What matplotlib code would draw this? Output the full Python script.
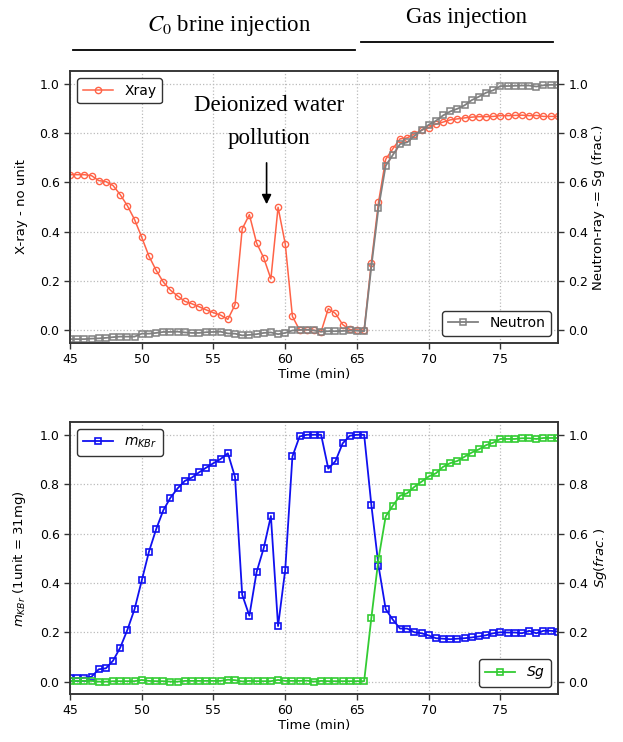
import numpy as np
import matplotlib
matplotlib.use("Agg")
import matplotlib.pyplot as plt

# ---- data -----------------------------------------------------------
time_min = [45.0 + 0.5 * i for i in range(69)]  # 45.0 ... 79.0

xray = [0.631, 0.631, 0.631, 0.627, 0.607, 0.603, 0.587, 0.550, 0.505, 0.449,
        0.377, 0.301, 0.244, 0.196, 0.163, 0.140, 0.118, 0.108, 0.096, 0.083,
        0.072, 0.062, 0.045, 0.104, 0.411, 0.469, 0.355, 0.294, 0.209, 0.499,
        0.351, 0.057, 0.002, 0.003, 0.001, -0.005, 0.088, 0.069, 0.024, 0.004,
        0.002, 0.001, 0.274, 0.519, 0.693, 0.736, 0.776, 0.780, 0.796, 0.811,
        0.822, 0.836, 0.844, 0.853, 0.857, 0.861, 0.864, 0.866, 0.866, 0.867,
        0.870, 0.870, 0.871, 0.872, 0.870, 0.871, 0.867, 0.867, 0.867]

neutron = [-0.035, -0.035, -0.035, -0.033, -0.032, -0.030, -0.027, -0.025, -0.025, -0.025,
           -0.013, -0.013, -0.010, -0.006, -0.006, -0.005, -0.008, -0.010, -0.010, -0.007,
           -0.006, -0.005, -0.012, -0.013, -0.020, -0.018, -0.015, -0.010, -0.008, -0.015,
           -0.010, 0.000, 0.002, 0.003, 0.000, -0.005, -0.003, -0.003, -0.002, 0.000,
           -0.001, -0.003, 0.258, 0.497, 0.667, 0.711, 0.755, 0.762, 0.788, 0.811,
           0.833, 0.849, 0.871, 0.887, 0.898, 0.912, 0.933, 0.947, 0.963, 0.973,
           0.990, 0.990, 0.991, 0.992, 0.992, 0.988, 0.993, 0.995, 0.995]

m_kbr = [0.014, 0.014, 0.016, 0.020, 0.050, 0.054, 0.085, 0.138, 0.210, 0.294,
         0.410, 0.526, 0.617, 0.694, 0.745, 0.783, 0.813, 0.827, 0.848, 0.867,
         0.885, 0.902, 0.925, 0.829, 0.352, 0.267, 0.443, 0.541, 0.671, 0.225,
         0.453, 0.912, 0.993, 1.000, 1.000, 1.000, 0.863, 0.893, 0.965, 0.996,
         1.000, 1.000, 0.717, 0.470, 0.294, 0.251, 0.215, 0.215, 0.200, 0.196,
         0.187, 0.176, 0.174, 0.172, 0.174, 0.176, 0.179, 0.183, 0.188, 0.196,
         0.200, 0.199, 0.199, 0.196, 0.206, 0.196, 0.206, 0.206, 0.203]

sg = [0.003, 0.003, 0.003, 0.003, 0.000, 0.000, 0.002, 0.002, 0.002, 0.002,
      0.007, 0.003, 0.002, 0.002, 0.000, 0.000, 0.003, 0.003, 0.003, 0.003,
      0.003, 0.003, 0.008, 0.006, 0.001, 0.003, 0.002, 0.002, 0.002, 0.007,
      0.003, 0.003, 0.003, 0.004, 0.000, 0.003, 0.002, 0.002, 0.002, 0.002,
      0.002, 0.002, 0.257, 0.497, 0.669, 0.713, 0.753, 0.763, 0.789, 0.810,
      0.831, 0.844, 0.870, 0.885, 0.894, 0.911, 0.928, 0.941, 0.958, 0.968,
      0.983, 0.983, 0.983, 0.986, 0.986, 0.983, 0.987, 0.987, 0.987]

y_ticks = [0.0, 0.2, 0.4, 0.6, 0.8, 1.0]
x_ticks = [45, 50, 55, 60, 65, 70, 75]

# ---- style ----------------------------------------------------------
plt.rcParams.update({
    "font.family": ["DejaVu Sans"],
    "mathtext.fontset": "dejavusans",
    "axes.edgecolor": "#333333",
    "axes.linewidth": 1.1,
    "xtick.color": "#333333",
    "ytick.color": "#333333",
    "xtick.labelcolor": "black",
    "ytick.labelcolor": "black",
    "xtick.labelsize": 9,
    "ytick.labelsize": 9,
    "axes.labelsize": 9.5,
    "legend.fontsize": 10,
})

fig = plt.figure(figsize=(6.23, 7.42), dpi=100)
ax1 = fig.add_axes([0.1124, 0.538, 0.783, 0.366])
ax3 = fig.add_axes([0.1124, 0.0647, 0.783, 0.366])

XRAY_C = "#ff6347"
NEUT_C = "#808080"
KBR_C = "#1010f0"
SG_C = "#33cc33"


def style(ax, twin):
    ax.set_xlim(45, 79)
    ax.set_ylim(-0.05, 1.05)
    ax.set_xticks(x_ticks)
    ax.set_yticks(y_ticks)
    twin.set_ylim(-0.05, 1.05)
    twin.set_yticks(y_ticks)
    ax.grid(True, linestyle=":", color="#bbbbbb", linewidth=0.9)
    for a in (ax, twin):
        a.tick_params(direction="out", length=4, width=1)


# top panel
ax2 = ax1.twinx()
ax1.plot(time_min, xray, "-o", color=XRAY_C, mfc="none", mec=XRAY_C,
         ms=4.5, lw=1.1, mew=1.0, label="Xray")
ax2.plot(time_min, neutron, "-s", color=NEUT_C, mfc="none", mec=NEUT_C,
         ms=5, lw=1.3, mew=1.1, label="Neutron")
style(ax1, ax2)
ax1.set_xlabel("Time (min)", labelpad=1)
ax1.set_ylabel("X-ray - no unit", labelpad=8)
ax2.set_ylabel("Neutron-ray -= Sg (frac.)", labelpad=3)
leg = ax1.legend(loc="upper left", fancybox=True, framealpha=1,
                 edgecolor="#333333", handlelength=2.2)
leg.get_frame().set_linewidth(1.0)
leg = ax2.legend(loc="lower right", fancybox=True, framealpha=1,
                 edgecolor="#333333", handlelength=2.2)
leg.get_frame().set_linewidth(1.0)

ax1.text(58.85, 0.845, "Deionized water\npollution", ha="center", va="center",
         fontsize=16.5, family="Liberation Serif", linespacing=1.75)
ax1.annotate("", xy=(58.7, 0.5), xytext=(58.7, 0.69),
             arrowprops=dict(arrowstyle="-|>", color="black", lw=1.2,
                             mutation_scale=14))

# bottom panel
ax4 = ax3.twinx()
ax3.plot(time_min, m_kbr, "-s", color=KBR_C, mfc="none", mec=KBR_C,
         ms=5, lw=1.3, mew=1.2, label=r"$m_{KBr}$")
ax4.plot(time_min, sg, "-s", color=SG_C, mfc="none", mec=SG_C,
         ms=5, lw=1.3, mew=1.2, label=r"$Sg$")
style(ax3, ax4)
ax3.set_xlabel("Time (min)", labelpad=1)
ax3.set_ylabel(r"$m_{KBr}$ (1unit = 31mg)", labelpad=8)
ax4.set_ylabel(r"$Sg(frac.)$", labelpad=3)
leg = ax3.legend(loc="upper left", fancybox=True, framealpha=1,
                 edgecolor="#333333", handlelength=2.2)
leg.get_frame().set_linewidth(1.0)
leg = ax4.legend(loc="lower right", fancybox=True, framealpha=1,
                 edgecolor="#333333", handlelength=2.2)
leg.get_frame().set_linewidth(1.0)

# header annotations
fig.text(229 / 623, 1 - 26 / 742, r"$C_{\mathit{0}}$ brine injection", ha="center", va="center",
         fontsize=16.5, family="Liberation Serif", math_fontfamily="stix")
fig.text(466 / 623, 1 - 18 / 742, "Gas injection", ha="center", va="center",
         fontsize=16.5, family="Liberation Serif")
fig.add_artist(plt.Line2D([73 / 623, 355 / 623], [1 - 50 / 742, 1 - 50 / 742],
                          color="black", lw=1.3, transform=fig.transFigure))
fig.add_artist(plt.Line2D([361 / 623, 553 / 623], [1 - 42 / 742, 1 - 42 / 742],
                          color="black", lw=1.3, transform=fig.transFigure))

fig.savefig("out.png", dpi=100)
